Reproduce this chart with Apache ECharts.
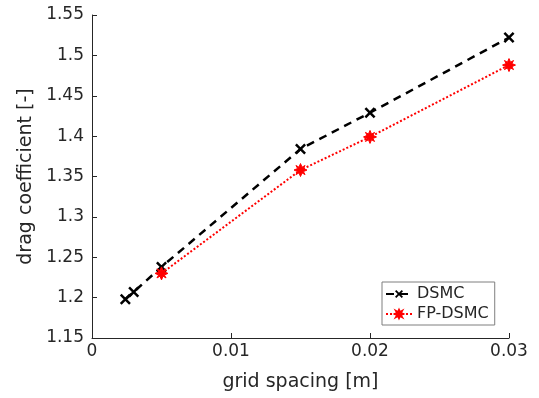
<!DOCTYPE html>
<html><head><meta charset="utf-8">
<script src="https://cdn.jsdelivr.net/npm/echarts@6/dist/echarts.min.js"></script>
<style>html,body{margin:0;padding:0;background:#fff}#c{width:539px;height:398px}</style>
</head><body><div id="c"></div>
<script>
const dsmcX = [0.0024, 0.003, 0.005, 0.015, 0.02, 0.03];
const dsmcY = [1.198, 1.207, 1.238, 1.384, 1.429, 1.522];
const fpX = [0.005, 0.015, 0.02, 0.03];
const fpY = [1.230, 1.358, 1.399, 1.488];
const xTicks = [0, 0.01, 0.02, 0.03];
const yTicks = [1.15, 1.2, 1.25, 1.3, 1.35, 1.4, 1.45, 1.5, 1.55];

const txt = '#262626';
const font = 'DejaVu Sans';
const crossPath = 'path://M1.6,0 L5,3.4 L8.4,0 L10,1.6 L6.6,5 L10,8.4 L8.4,10 L5,6.6 L1.6,10 L0,8.4 L3.4,5 L0,1.6 Z';
const starPath = 'path://M5,0 L6.2,2.8 L8.5,1.5 L7.2,3.8 L10,5 L7.2,6.2 L8.5,8.5 L6.2,7.2 L5,10 L3.8,7.2 L1.5,8.5 L2.8,6.2 L0,5 L2.8,3.8 L1.5,1.5 L3.8,2.8 Z';

const chart = echarts.init(document.getElementById('c'), null, {renderer: 'canvas'});
chart.setOption({
  animation: false,
  textStyle: {fontFamily: font},
  grid: {left: 92, right: 30, top: 15, bottom: 60, containLabel: false},
  xAxis: {
    type: 'value', min: 0, max: 0.03, interval: 0.01,
    name: 'grid spacing [m]', nameLocation: 'middle', nameGap: 35,
    nameTextStyle: {color: txt, fontSize: 19, fontFamily: font},
    axisLine: {lineStyle: {color: txt, width: 1}},
    axisTick: {inside: true, length: 5, lineStyle: {color: txt}},
    axisLabel: {color: txt, fontSize: 17, fontFamily: font, margin: 5,
      formatter: v => xTicks.includes(+v.toFixed(4)) ? String(+v.toFixed(4)) : ''},
    splitLine: {show: false}
  },
  yAxis: {
    type: 'value', min: 1.15, max: 1.55, interval: 0.05,
    name: 'drag coefficient [-]', nameLocation: 'middle', nameGap: 52,
    nameTextStyle: {color: txt, fontSize: 19, fontFamily: font},
    axisLine: {show: true, lineStyle: {color: txt, width: 1}},
    axisTick: {show: true, inside: true, length: 5, lineStyle: {color: txt}},
    axisLabel: {color: txt, fontSize: 17, fontFamily: font, margin: 8,
      formatter: v => { const r = +v.toFixed(2); return yTicks.includes(r) ? String(r) : ''; }},
    splitLine: {show: false}
  },
  legend: {
    orient: 'vertical', left: 382, top: 282,
    itemWidth: 26, itemHeight: 10, itemGap: 4,
    padding: [4, 6, 3, 3],
    borderColor: '#7f7f7f', borderWidth: 1, borderRadius: 0,
    backgroundColor: '#fff',
    textStyle: {color: txt, fontSize: 16, fontFamily: font},
    data: ['DSMC', 'FP-DSMC']
  },
  series: [
    {
      name: 'DSMC', type: 'line',
      data: dsmcX.map((x, i) => [x, dsmcY[i]]),
      symbol: crossPath, symbolSize: 11,
      lineStyle: {color: '#000', width: 2.5, type: [8, 6]},
      itemStyle: {color: '#000'}, z: 3
    },
    {
      name: 'FP-DSMC', type: 'line',
      data: fpX.map((x, i) => [x, fpY[i]]),
      symbol: starPath, symbolSize: 13,
      lineStyle: {color: '#ff0000', width: 2, type: [2, 2]},
      itemStyle: {color: '#ff0000', borderColor: '#ff0000', borderWidth: 1}, z: 4
    }
  ]
});
</script></body></html>
